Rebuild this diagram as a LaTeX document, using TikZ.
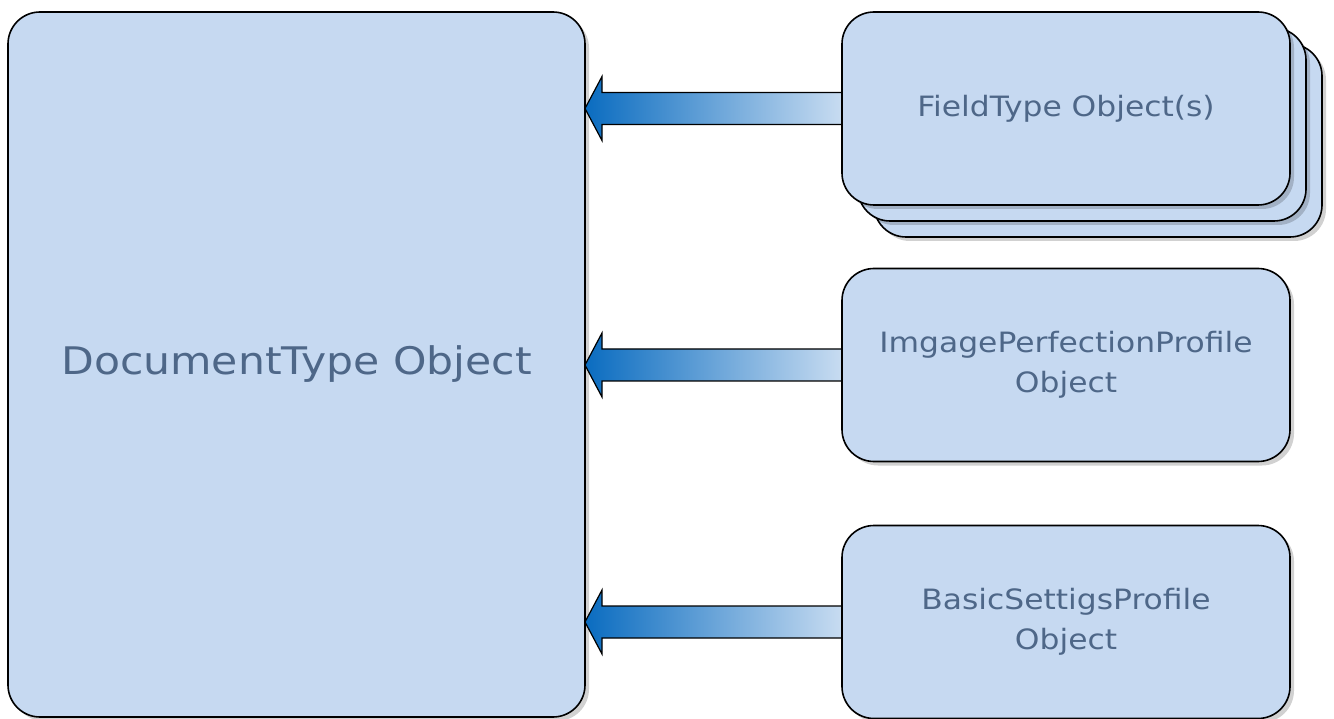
\documentclass[tikz,border=0pt]{standalone}
\usepackage{fontspec}
\usetikzlibrary{shadows,calc}
\newfontfamily\boxfont[FakeStretch=1.12]{DejaVu Sans}
\definecolor{boxfill}{HTML}{C6D9F1}
\definecolor{boxtext}{HTML}{4E6788}
\definecolor{arrowdark}{HTML}{0A6CC0}
\definecolor{arrowlight}{HTML}{C8DCF1}
\tikzset{
  objbox/.style={draw=black, line width=1.6pt, fill=boxfill, rounded corners=32pt,
    inner sep=0pt, outer sep=0pt, align=center, text=boxtext,
    drop shadow={shadow xshift=4pt, shadow yshift=-4pt, fill=black, opacity=0.18}},
  smallbox/.style={objbox, minimum width=448pt, minimum height=193pt,
    font=\boxfont\fontsize{28}{40}\selectfont},
  fatarrow/.style={draw=black, line width=1.2pt, left color=arrowdark, right color=arrowlight}
}
\begin{document}
\begin{tikzpicture}[x=1pt,y=-1pt]
\useasboundingbox (0,0) rectangle (1334,719);
% stacked FieldType boxes
\node[smallbox] (ft3) at (1098,140.5) {};
\node[smallbox] (ft2) at (1082,124.5) {};
\node[smallbox] (ft) at (1066,108.5) {FieldType Object(s)};
\node[smallbox] (ipp) at (1066,365) {ImgagePerfectionProfile\\Object};
\node[smallbox] (bsp) at (1066,622) {BasicSettigsProfile\\Object};
\node[objbox, minimum width=577pt, minimum height=705pt,
  font=\boxfont\fontsize{38}{46}\selectfont] (doc) at (296.5,364.5) {DocumentType Object};
% arrows
\foreach \src in {ft,ipp,bsp}{
  \path let \p1=(doc.east), \p2=(\src.west) in
    [fatarrow] (\x1,\y2) -- (\x1+17pt,\y2+32pt) -- (\x1+17pt,\y2+16pt)
      -- (\x2,\y2+16pt) -- (\x2,\y2-16pt) -- (\x1+17pt,\y2-16pt)
      -- (\x1+17pt,\y2-32pt) -- cycle;
}
% redraw the box borders over arrow ends
\foreach \src in {ft,ipp,bsp}{
  \draw[line width=1.6pt] (\src.north west) ++(0,-32pt) -- ($(\src.south west)+(0,32pt)$);
}
\end{tikzpicture}
\end{document}
